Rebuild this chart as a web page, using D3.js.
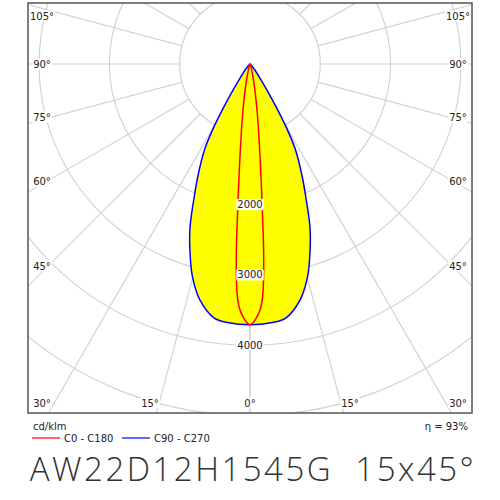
<!DOCTYPE html><html><head><meta charset="utf-8"><script src="https://d3js.org/d3.v7.min.js"></script>
<style>body{margin:0;background:#fff}</style></head><body><svg width="500" height="500"></svg><script>
const anglesC0=[0,2,3,4,5,6,8,10,12,15,20,30,45,90];
const valuesC0=[3710,3550,3350,2800,1950,1400,800,450,250,100,30,5,0,0];
const anglesC90=[0,5,8,12,15,17,20,22.5,25,28,30,32,35,40,45,60,90];
const valuesC90=[3710,3690,3650,3430,3150,2900,2500,2090,1750,1370,1000,600,250,80,20,0,0];
const ringLabels=[1000,2000,3000,4000,5000,6000];
const angleTicks=[0,15,30,45,60,75,90,105,120,135,150,165,180];
const svg=d3.select("svg");
const cx=250,cy=64,L=28,R=472,T=3,B=413;
const r=d3.scaleLinear().domain([0,1000]).range([0,70.3]);
const pt=(a,v,s)=>{const t=a*Math.PI/180;return [cx+s*r(v)*Math.sin(t),cy+r(v)*Math.cos(t)];};
svg.append("defs").append("clipPath").attr("id","c").append("rect").attr("x",L).attr("y",T).attr("width",R-L).attr("height",B-T);
const g=svg.append("g").attr("clip-path","url(#c)");
ringLabels.forEach(v=>g.append("circle").attr("cx",cx).attr("cy",cy).attr("r",r(v)).attr("fill","none").attr("stroke","#d3d3d3").attr("stroke-width",1.2));
angleTicks.forEach(a=>[1,-1].forEach(s=>{const p1=pt(a,1000,s),p2=pt(a,9000,s);g.append("line").attr("x1",p1[0]).attr("y1",p1[1]).attr("x2",p2[0]).attr("y2",p2[1]).attr("stroke","#d3d3d3").attr("stroke-width",1.2);}));
function mk(angles,vals){const pts=[];for(let i=angles.length-1;i>0;i--)pts.push(pt(angles[i],vals[i],-1));for(let i=0;i<angles.length;i++)pts.push(pt(angles[i],vals[i],1));return d3.line().curve(d3.curveCatmullRom)(pts)+"Z";}
g.append("path").attr("d",mk(anglesC90,valuesC90)).attr("fill","#ffff00").attr("stroke","#0000ff").attr("stroke-width",1.5);
g.append("path").attr("d",mk(anglesC0,valuesC0)).attr("fill","none").attr("stroke","#ff0000").attr("stroke-width",1.5);
const font="Verdana, 'DejaVu Sans', sans-serif";
function lab(x,y,t){const tx=svg.append("text").attr("x",x).attr("y",y).attr("text-anchor","middle").attr("dominant-baseline","central").attr("font-family",font).attr("font-size",10).attr("fill","#222").text(t);const b=tx.node().getBBox();svg.insert("rect","text:last-of-type").attr("x",b.x-1).attr("y",b.y).attr("width",b.width+2).attr("height",b.height).attr("fill","#fff");tx.raise();}
[2000,3000,4000].forEach(v=>lab(cx,cy+r(v),v));
[[105,16],[90,64],[75,117],[60,181],[45,266]].forEach(([a,y])=>{lab(42,y,a+"°");lab(458,y,a+"°");});
[[30,42],[15,150],[0,250]].forEach(([a,x])=>{lab(x,403,a+"°");if(a)lab(500-x,403,a+"°");});
svg.append("rect").attr("x",L).attr("y",T).attr("width",R-L).attr("height",B-T).attr("fill","none").attr("stroke","#555").attr("stroke-width",1.5);
svg.append("text").attr("x",33).attr("y",430).attr("font-family",font).attr("font-size",10).attr("fill","#222").text("cd/klm");
svg.append("text").attr("x",468).attr("y",430).attr("text-anchor","end").attr("font-family",font).attr("font-size",10).attr("fill","#222").text("η = 93%");
[["#ff0000","C0 - C180",32],["#0000ff","C90 - C270",122]].forEach(([c,t,x])=>{svg.append("line").attr("x1",x).attr("x2",x+28).attr("y1",438).attr("y2",438).attr("stroke",c).attr("stroke-width",1.2);svg.append("text").attr("x",x+32).attr("y",442).attr("font-family",font).attr("font-size",10).attr("fill","#222").text(t);});
svg.append("text").attr("x",253).attr("y",481).attr("text-anchor","middle").attr("font-family","'Open Sans', sans-serif").attr("font-weight",300).attr("font-size",33).attr("fill","#333").attr("letter-spacing",2.5).style("white-space","pre").text("AW22D12H1545G  15x45°");
</script></body></html>
